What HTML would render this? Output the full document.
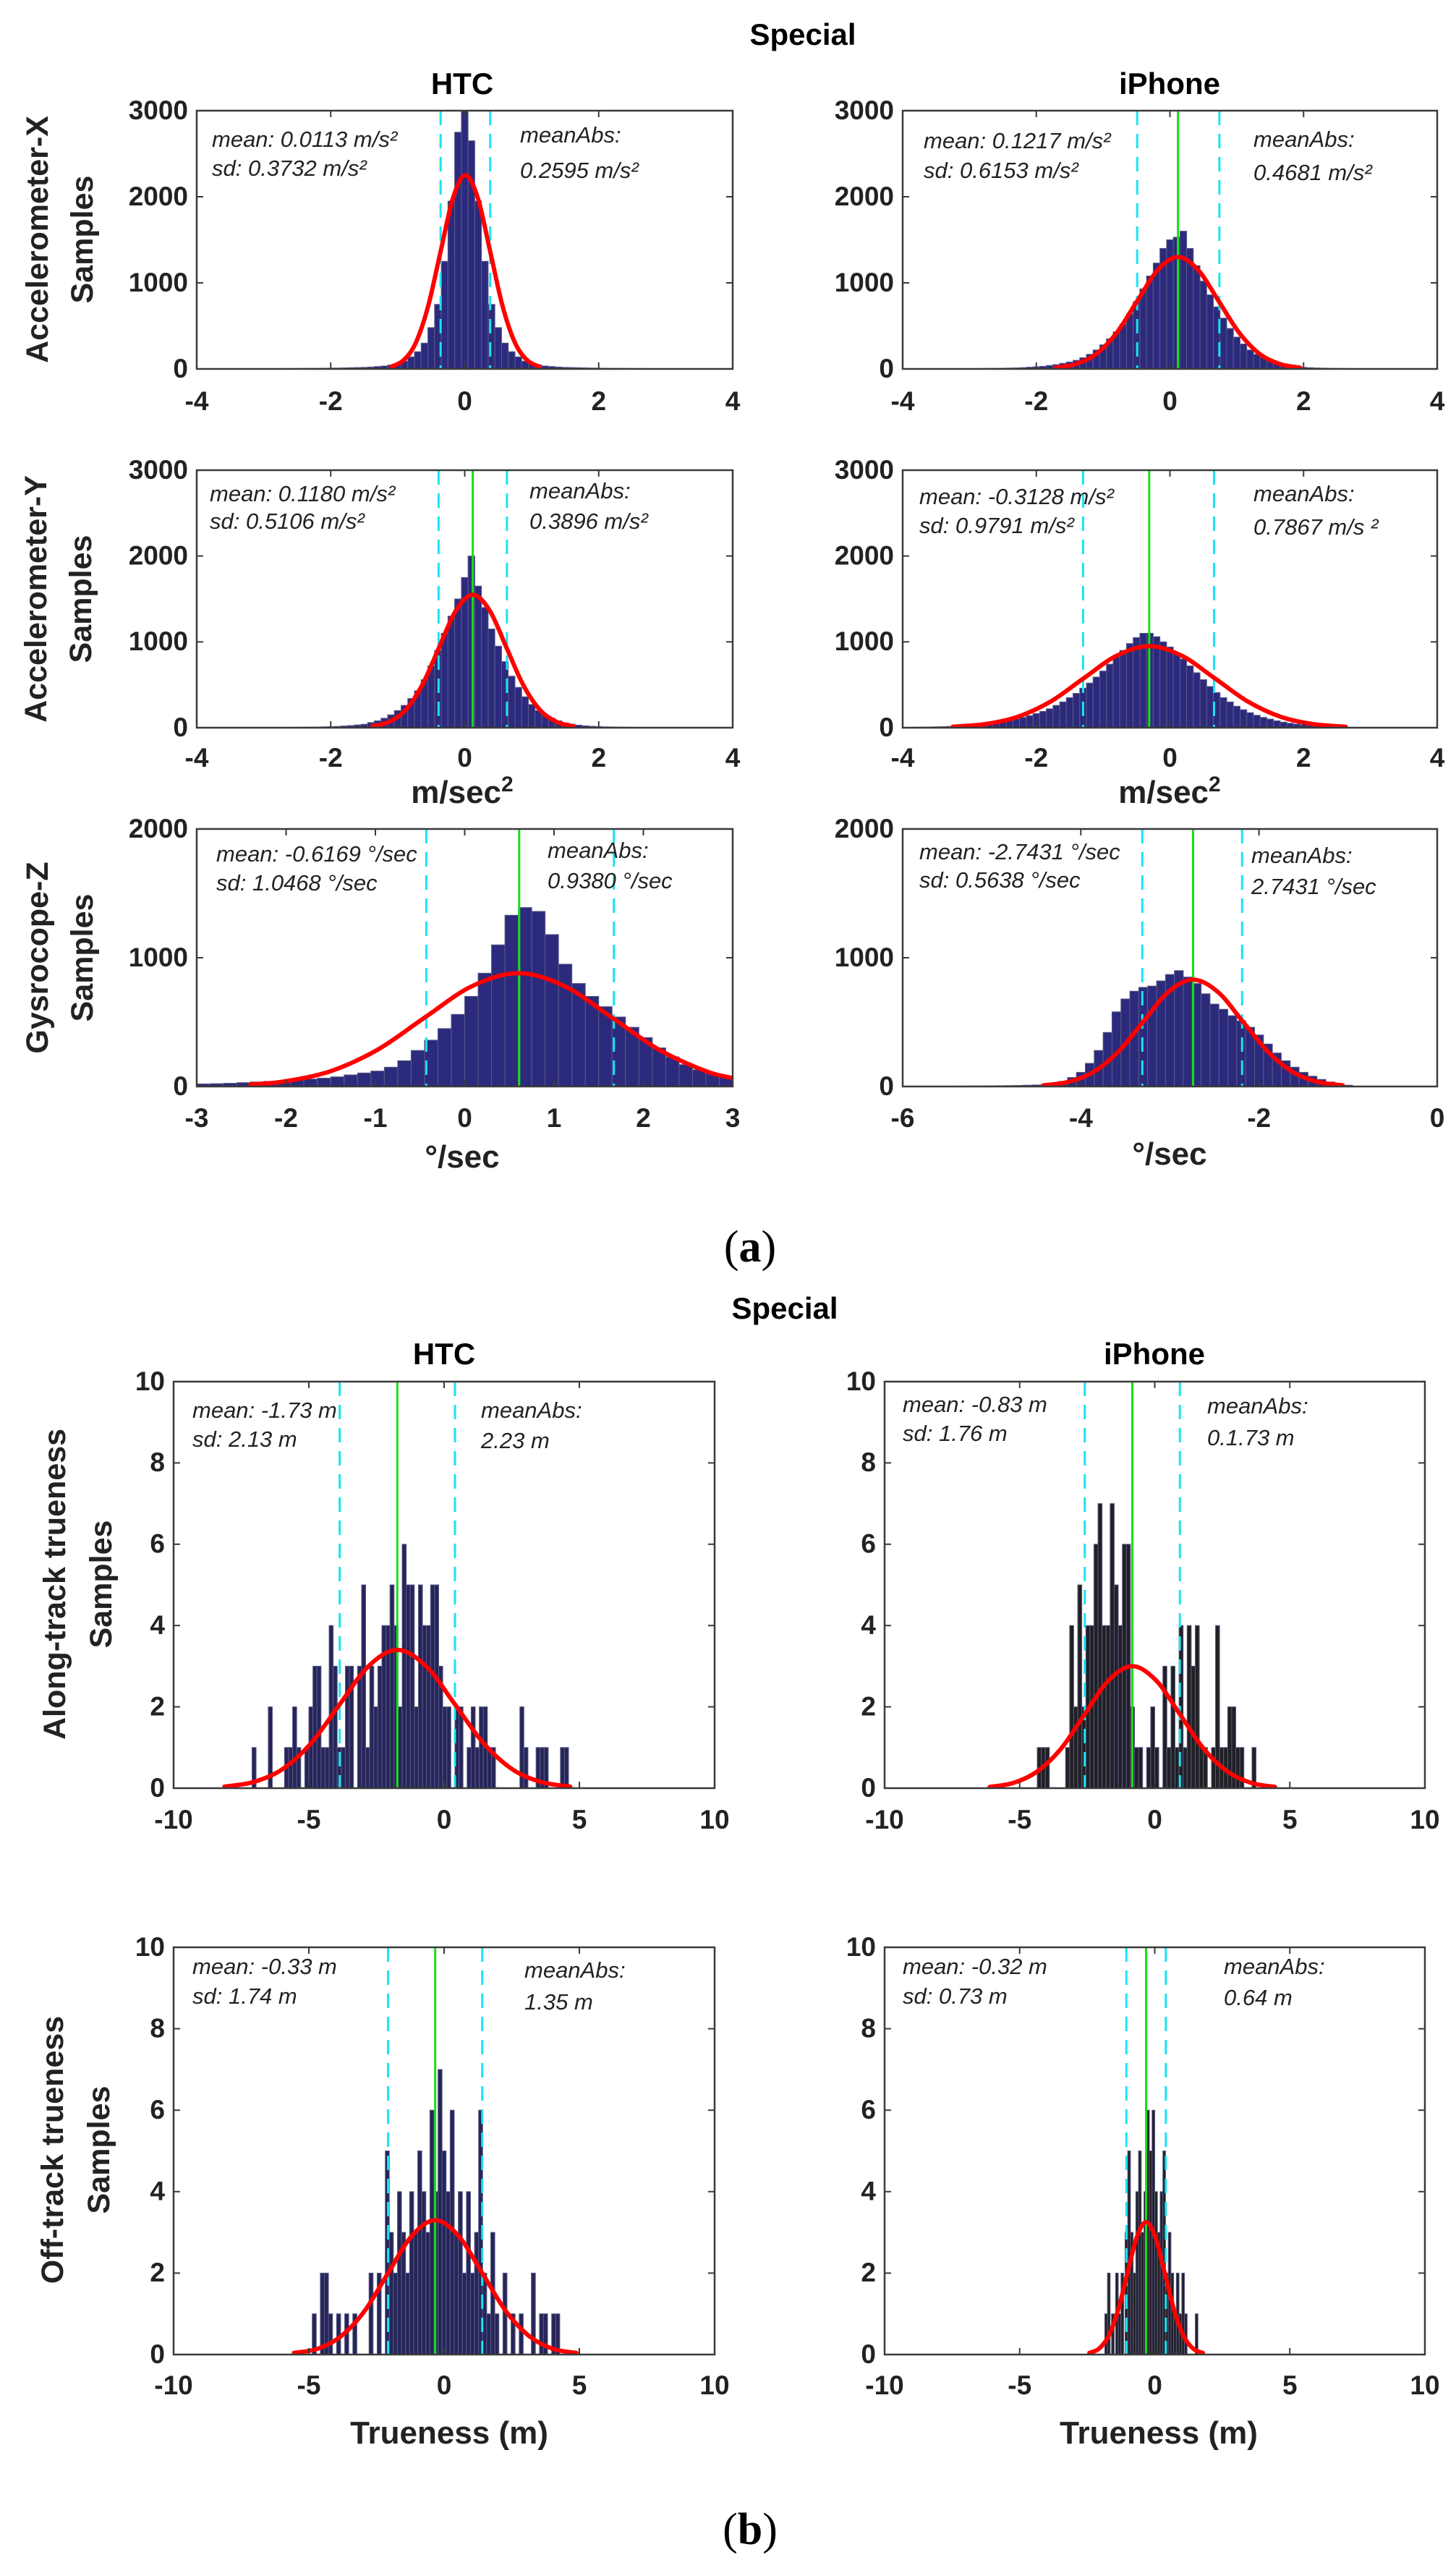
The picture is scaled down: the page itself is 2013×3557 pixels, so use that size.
<!DOCTYPE html>
<html><head><meta charset="utf-8"><title>Special sensor histograms</title>
<style>
html,body{margin:0;padding:0;background:#fff;}
svg{display:block;}
text{font-family:"Liberation Sans",Arial,sans-serif;}
.tick{font-weight:bold;font-size:37px;fill:#222;}
.ann{font-style:italic;font-size:31px;fill:#222;}
.ttl{font-weight:bold;font-size:42px;fill:#000;}
.ylab{font-weight:bold;font-size:43px;fill:#222;}
.xlab{font-weight:bold;font-size:44px;fill:#222;}
.cap{font-family:"Liberation Serif",serif;font-size:62px;fill:#000;}
</style></head>
<body>
<svg id="fig" xmlns="http://www.w3.org/2000/svg" width="2013" height="3557" viewBox="0 0 2013 3557">
<rect x="0" y="0" width="2013" height="3557" fill="#fff"/>
<text x="1110" y="62" text-anchor="middle" class="ttl">Special</text>
<text x="639" y="130" text-anchor="middle" class="ttl">HTC</text>
<text x="1617" y="130" text-anchor="middle" class="ttl">iPhone</text>
<text x="1085" y="1823" text-anchor="middle" class="ttl">Special</text>
<text x="614" y="1886" text-anchor="middle" class="ttl">HTC</text>
<text x="1596" y="1886" text-anchor="middle" class="ttl">iPhone</text>

<g class="ylab">
<text transform="translate(66,331) rotate(-90)" text-anchor="middle">Accelerometer-X</text>
<text transform="translate(128,331) rotate(-90)" text-anchor="middle">Samples</text>
<text transform="translate(64,828) rotate(-90)" text-anchor="middle">Accelerometer-Y</text>
<text transform="translate(126,828) rotate(-90)" text-anchor="middle">Samples</text>
<text transform="translate(66,1324) rotate(-90)" text-anchor="middle">Gysrocope-Z</text>
<text transform="translate(128,1324) rotate(-90)" text-anchor="middle">Samples</text>
<text transform="translate(90,2190) rotate(-90)" text-anchor="middle">Along-track trueness</text>
<text transform="translate(154,2190) rotate(-90)" text-anchor="middle">Samples</text>
<text transform="translate(87,2972) rotate(-90)" text-anchor="middle">Off-track trueness</text>
<text transform="translate(151,2972) rotate(-90)" text-anchor="middle">Samples</text>
</g>

<g class="xlab">
<text x="639" y="1110" text-anchor="middle">m/sec<tspan font-size="30" dy="-16">2</tspan></text>
<text x="1617" y="1110" text-anchor="middle">m/sec<tspan font-size="30" dy="-16">2</tspan></text>
<text x="639" y="1614" text-anchor="middle">°/sec</text>
<text x="1617" y="1610" text-anchor="middle">°/sec</text>
<text x="621" y="3378" text-anchor="middle">Trueness (m)</text>
<text x="1602" y="3378" text-anchor="middle">Trueness (m)</text>
</g>
<text x="1037" y="1744" text-anchor="middle" class="cap">(<tspan font-weight="bold">a</tspan>)</text>
<text x="1037" y="3517" text-anchor="middle" class="cap">(<tspan font-weight="bold">b</tspan>)</text>
<g id="panels"></g>
</svg>
<script>
// ---------- DATA ----------
const p1Counts = [1,1,1,1,2,2,2,2,3,3,3,3,4,4,5,5,6,6,7,8,9,10,12,14,16,18,22,28,
 34,45,60,90,140,200,300,480,750,1250,1950,2750,3200,2650,1950,1250,750,480,300,200,140,90,60,45,34,
 28,22,18,16,14,12,10,9,8,7,6,6,5,5,4,4,3,3,3,3,2,2,2,2,1,1,1,1];
const p1CurveX = [-1.10,-0.915,-0.73,-0.545,-0.36,-0.175,0.01,0.195,0.38,0.565,0.75,0.935,1.12];
const p1CurveY = [25,99,304,731,1365,1986,2250,1986,1365,731,304,99,25];

const p2Counts = [1,1,1,1,2,2,2,3,3,3,4,4,5,6,7,8,10,12,15,20,
 25,30,40,50,65,80,100,130,170,220,280,350,430,520,640,780,930,1080,1230,1400,1500,1530,1600,1400,1200,1020,860,720,590,470,370,290,220,170,130,95,70,50,35,25,18,
 14,11,9,7,6,5,4,4,3,3,2,2,2,2,1,1,1,1,1,1];
const p2CurveX = [-1.71,-1.405,-1.10,-0.795,-0.49,-0.185,0.12,0.425,0.73,1.035,1.34,1.645,1.95];
const p2CurveY = [14,57,176,422,788,1147,1300,1147,788,422,176,57,14];

const p3Counts = [1,1,1,1,1,2,2,2,2,3,3,3,4,4,5,5,6,7,8,10,12,15,20,25,32,
 40,60,80,110,150,200,260,340,430,560,720,900,1100,1300,1500,1750,2000,1650,1400,1150,950,770,600,470,360,270,200,150,110,80,55,40,30,
 22,17,13,10,8,7,6,5,4,4,3,3,3,2,2,2,2,1,1,1,1,1,1];
const p3CurveX = [-1.38,-1.13,-0.88,-0.63,-0.38,-0.13,0.12,0.37,0.62,0.87,1.12,1.37,1.62];
const p3CurveY = [17,68,210,503,940,1368,1550,1368,940,503,210,68,17];

const p4Counts = [4,5,6,7,8,
 10,12,15,18,22,28,34,40,48,58,70,85,100,120,140,165,190,220,260,300,350,400,460,520,590,660,740,820,900,980,
 1050,1100,1100,1060,1000,940,870,800,720,640,560,480,410,350,300,250,210,175,145,120,100,80,65,52,42,34,27,21,16,12,9,7,5,4,3,2,
 2,2,1,1,1,1,1,1,1,1];
const p4CurveX = [-3.25,-2.76,-2.27,-1.78,-1.29,-0.80,-0.31,0.18,0.67,1.16,1.65,2.14,2.63];
const p4CurveY = [11,42,129,308,576,838,950,838,576,308,129,42,11];

const p5Counts = [20,22,25,30,35,40,45,50,58,65,75,90,105,120,150,200,280,360,450,560,700,880,1100,1330,1390,1360,1180,950,800,700,620,540,460,380,300,230,170,130,100,70];
const p5CurveX = [-2.4,-2.025,-1.5,-0.975,-0.45,0.075,0.6,1.125,1.65,2.175,2.7,3.0];
const p5CurveY = [15,39,119,286,534,777,880,777,534,286,119,65];

const p6Counts = [2,3,3,4,4,5,6,7,8,10,12,15,25,40,70,110,180,280,420,580,680,740,770,780,820,870,900,850,800,720,640,600,550,510,460,400,330,260,200,150,110,80,55,35,20,10];
const p6CurveX = [-4.42,-4.14,-3.86,-3.58,-3.30,-3.02,-2.74,-2.46,-2.18,-1.90,-1.62,-1.34,-1.06];
const p6CurveY = [9,36,112,270,503,733,830,733,503,270,112,36,9];

const p7Counts = [1,0,0,0,2,0,0,0,1,1,2,1,0,1,2,3,3,1,1,4,3,1,1,3,3,0,3,5,1,3,2,3,4,4,5,4,2,6,5,5,2,5,4,4,5,5,3,2,2,0,2,2,0,1,2,1,2,2,1,1,0,0,0,0,0,0,2,1,0,0,1,1,1,0,0,0,1,1];
const p7CurveX = [-8.12,-7.055,-5.99,-4.925,-3.86,-2.795,-1.73,-0.665,0.4,1.465,2.53,3.595,4.66];
const p7CurveY = [0.04,0.15,0.46,1.10,2.06,3.0,3.4,3.0,2.06,1.10,0.46,0.15,0.04];

const p8Counts = [1,1,1,0,0,0,0,1,4,2,5,2,4,4,6,7,4,4,7,5,4,6,6,2,1,1,0,1,2,1,0,3,1,3,1,4,1,4,3,4,1,1,0,1,4,1,1,2,2,1,1,0,0,1];
const p8CurveX = [-6.11,-5.23,-4.35,-3.47,-2.59,-1.71,-0.83,0.05,0.93,1.81,2.69,3.57,4.45];
const p8CurveY = [0.03,0.13,0.41,0.97,1.82,2.65,3.0,2.65,1.82,0.97,0.41,0.13,0.03];

const p9Centers = [-4.8,-4.5,-4.35,-4.2,-3.9,-3.6,-3.3,-2.7,-2.4,-2.1,-1.95,-1.8,-1.65,-1.5,-1.35,-1.2,-1.05,-0.9,-0.75,-0.6,-0.45,-0.3,-0.15,0,0.15,0.3,0.45,0.6,0.75,0.9,1.05,1.2,1.35,1.5,1.65,1.8,1.95,2.25,2.55,2.85,3.3,3.6,3.75,4.05,4.2];
const p9Counts = [1,2,2,1,1,1,1,2,2,5,3,2,4,3,2,4,3,5,4,3,6,4,7,5,4,6,3,4,2,4,2,3,6,2,1,3,1,2,1,1,2,1,1,1,1];
const p9CurveX = [-5.55,-4.68,-3.81,-2.94,-2.07,-1.2,-0.33,0.54,1.41,2.28,3.15,4.02,4.89];
const p9CurveY = [0.04,0.14,0.45,1.07,2.0,2.91,3.3,2.91,2.0,1.07,0.45,0.14,0.04];

const p10Centers = [-1.8,-1.7,-1.55,-1.4,-1.3,-1.2,-1.05,-0.95,-0.85,-0.75,-0.65,-0.55,-0.45,-0.35,-0.25,-0.15,-0.05,0.05,0.15,0.25,0.35,0.45,0.55,0.65,0.75,0.85,0.95,1.05,1.15,1.55];
const p10Counts = [1,2,1,2,1,2,3,5,3,2,4,5,3,4,6,5,6,4,3,4,5,2,3,2,1,2,1,2,1,1];
const p10CurveX = [-2.42,-2.07,-1.72,-1.37,-1.02,-0.67,-0.32,0.03,0.38,0.73,1.08,1.43,1.78];
const p10CurveY = [0.04,0.14,0.44,1.06,1.97,2.87,3.25,2.87,1.97,1.06,0.44,0.14,0.04];

const accTicksX = ["-4","-2","0","2","4"];
const accTicksY = ["0","1000","2000","3000"];
const gyroHtcTicksX = ["-3","-2","-1","0","1","2","3"];
const gyroIphTicksX = ["-6","-4","-2","0"];
const gyroTicksY = ["0","1000","2000"];
const trueTicksX = ["-10","-5","0","5","10"];
const trueTicksY = ["0","2","4","6","8","10"];

// mean (green) and mean±sd (cyan) marker positions
const p1Lines = {green:null, cyan:[-0.36,0.38]};
const p2Lines = {green:0.12, cyan:[-0.49,0.74]};
const p3Lines = {green:0.12, cyan:[-0.39,0.63]};
const p4Lines = {green:-0.31, cyan:[-1.30,0.66]};
const p5Lines = {green:0.61, cyan:[-0.43,1.67]};
const p6Lines = {green:-2.74, cyan:[-3.31,-2.19]};
const p7Lines = {green:-1.73, cyan:[-3.86,0.40]};
const p8Lines = {green:-0.83, cyan:[-2.59,0.93]};
const p9Lines = {green:-0.33, cyan:[-2.07,1.41]};
const p10Lines = {green:-0.32, cyan:[-1.05,0.41]};

// ---------- LAYOUT ----------
const NAVY = "#2c2a7c", NAVYB = "#252559", DARK = "#202024";
const panels = [
 {id:"accel-x-htc", box:[272,153,1013,510], xd:[-4,4], yd:[0,3000], xt:accTicksX, yt:accTicksY, counts:p1Counts, start:-4.05, w:0.1, fill:NAVY, lines:p1Lines, cx:p1CurveX, cy:p1CurveY, xlY:557,
  ann:[[293,195,"mean: 0.0113 m/s²"],[293,235,"sd: 0.3732 m/s²"],[719,189,"meanAbs:"],[719,238,"0.2595 m/s²"]]},
 {id:"accel-x-iphone", box:[1248,153,1987,510], xd:[-4,4], yd:[0,3000], xt:accTicksX, yt:accTicksY, counts:p2Counts, start:-4.05, w:0.1, fill:NAVY, lines:p2Lines, cx:p2CurveX, cy:p2CurveY, xlY:557,
  ann:[[1277,197,"mean: 0.1217 m/s²"],[1277,238,"sd: 0.6153 m/s²"],[1733,195,"meanAbs:"],[1733,241,"0.4681 m/s²"]]},
 {id:"accel-y-htc", box:[272,650,1013,1006], xd:[-4,4], yd:[0,3000], xt:accTicksX, yt:accTicksY, counts:p3Counts, start:-4.05, w:0.1, fill:NAVY, lines:p3Lines, cx:p3CurveX, cy:p3CurveY, xlY:1050,
  ann:[[290,685,"mean: 0.1180 m/s²"],[290,723,"sd: 0.5106 m/s²"],[732,681,"meanAbs:"],[732,723,"0.3896 m/s²"]]},
 {id:"accel-y-iphone", box:[1248,650,1987,1006], xd:[-4,4], yd:[0,3000], xt:accTicksX, yt:accTicksY, counts:p4Counts, start:-4.05, w:0.1, fill:NAVY, lines:p4Lines, cx:p4CurveX, cy:p4CurveY, xlY:1050,
  ann:[[1271,689,"mean: -0.3128 m/s²"],[1271,729,"sd: 0.9791 m/s²"],[1733,685,"meanAbs:"],[1733,731,"0.7867 m/s ²"]]},
 {id:"gyro-z-htc", box:[272,1146,1013,1502], xd:[-3,3], yd:[0,2000], xt:gyroHtcTicksX, yt:gyroTicksY, counts:p5Counts, start:-3.0, w:0.15, fill:NAVY, lines:p5Lines, cx:p5CurveX, cy:p5CurveY, xlY:1548,
  ann:[[299,1183,"mean: -0.6169 °/sec"],[299,1223,"sd: 1.0468 °/sec"],[757,1178,"meanAbs:"],[757,1220,"0.9380 °/sec"]]},
 {id:"gyro-z-iphone", box:[1248,1146,1987,1502], xd:[-6,0], yd:[0,2000], xt:gyroIphTicksX, yt:gyroTicksY, counts:p6Counts, start:-5.55, w:0.1, fill:NAVY, lines:p6Lines, cx:p6CurveX, cy:p6CurveY, xlY:1548,
  ann:[[1271,1180,"mean: -2.7431 °/sec"],[1271,1219,"sd: 0.5638 °/sec"],[1730,1185,"meanAbs:"],[1730,1228,"2.7431 °/sec"]]},
 {id:"along-track-htc", box:[240,1910,988,2472], xd:[-10,10], yd:[0,10], xt:trueTicksX, yt:trueTicksY, counts:p7Counts, start:-7.1, w:0.15, fill:NAVYB, lines:p7Lines, cx:p7CurveX, cy:p7CurveY, xlY:2518,
  ann:[[266,1952,"mean: -1.73 m"],[266,1992,"sd: 2.13 m"],[665,1952,"meanAbs:"],[665,1994,"2.23 m"]]},
 {id:"along-track-iphone", box:[1223,1910,1970,2472], xd:[-10,10], yd:[0,10], xt:trueTicksX, yt:trueTicksY, counts:p8Counts, start:-4.35, w:0.15, fill:DARK, lines:p8Lines, cx:p8CurveX, cy:p8CurveY, xlY:2518,
  ann:[[1248,1944,"mean: -0.83 m"],[1248,1984,"sd: 1.76 m"],[1669,1946,"meanAbs:"],[1669,1990,"0.1.73 m"]]},
 {id:"off-track-htc", box:[240,2692,988,3255], xd:[-10,10], yd:[0,10], xt:trueTicksX, yt:trueTicksY, counts:p9Counts, centers:p9Centers, w:0.15, fill:NAVYB, lines:p9Lines, cx:p9CurveX, cy:p9CurveY, xlY:3300,
  ann:[[266,2721,"mean: -0.33 m"],[266,2762,"sd: 1.74 m"],[725,2726,"meanAbs:"],[725,2770,"1.35 m"]]},
 {id:"off-track-iphone", box:[1223,2692,1970,3255], xd:[-10,10], yd:[0,10], xt:trueTicksX, yt:trueTicksY, counts:p10Counts, centers:p10Centers, w:0.1, fill:DARK, lines:p10Lines, cx:p10CurveX, cy:p10CurveY, xlY:3300,
  ann:[[1248,2721,"mean: -0.32 m"],[1248,2762,"sd: 0.73 m"],[1692,2721,"meanAbs:"],[1692,2764,"0.64 m"]]}
];

const NS = "http://www.w3.org/2000/svg";
function mk(tag, attrs, parent){
  const e = document.createElementNS(NS, tag);
  for (const k in attrs) e.setAttribute(k, attrs[k]);
  if (parent) parent.appendChild(e);
  return e;
}
function smoothPath(pts){
  let d = "M" + pts[0][0].toFixed(1) + "," + pts[0][1].toFixed(1);
  for (let i = 0; i < pts.length - 1; i++){
    const p0 = pts[Math.max(0,i-1)], p1 = pts[i], p2 = pts[i+1], p3 = pts[Math.min(pts.length-1,i+2)];
    const c1x = p1[0] + (p2[0]-p0[0])/6, c1y = p1[1] + (p2[1]-p0[1])/6;
    const c2x = p2[0] - (p3[0]-p1[0])/6, c2y = p2[1] - (p3[1]-p1[1])/6;
    d += " C" + c1x.toFixed(1)+","+c1y.toFixed(1)+" "+c2x.toFixed(1)+","+c2y.toFixed(1)+" "+p2[0].toFixed(1)+","+p2[1].toFixed(1);
  }
  return d;
}

const root = document.getElementById("panels");
panels.forEach(function(p){
  const [L,T,R,B] = p.box;
  const sx = v => L + (v - p.xd[0]) / (p.xd[1] - p.xd[0]) * (R - L);
  const sy = v => B - (v - p.yd[0]) / (p.yd[1] - p.yd[0]) * (B - T);
  const g = mk("g", {}, root);
  
  
  const clipId = "clip-" + p.id;
  const cp = mk("clipPath", {id:clipId}, g);
  mk("rect", {x:L, y:T, width:R-L, height:B-T}, cp);

  // bars
  const bars = mk("g", {"clip-path":"url(#"+clipId+")"}, g);
  
  
  p.counts.forEach(function(c, i){
    if (c <= 0) return;
    const x0 = p.centers ? p.centers[i] - p.w/2 : p.start + i * p.w;
    const xa = sx(x0), xb = sx(x0 + p.w);
    const r = mk("rect", {x:xa.toFixed(2), y:sy(c).toFixed(2), width:(xb-xa).toFixed(2), height:(B - sy(c)).toFixed(2), fill:p.fill, stroke:"#5b5b86", "stroke-width":"1"}, bars);
    
    
  });

  // sd lines
  p.lines.cyan.forEach(function(v){
    const l = mk("line", {x1:sx(v), x2:sx(v), y1:T, y2:B, stroke:"#18e4f4", "stroke-width":"3", "stroke-dasharray":"20,12"}, g);
    
    
  });
  if (p.lines.green !== null){
    const gl = mk("line", {x1:sx(p.lines.green), x2:sx(p.lines.green), y1:T, y2:B, stroke:"#16e016", "stroke-width":"3"}, g);
    
    
  }

  // fit curve
  const pts = p.cx.map((x, i) => [sx(x), sy(p.cy[i])]);
  const cur = mk("path", {d:smoothPath(pts), fill:"none", stroke:"#ff0000", "stroke-width":"6", "stroke-linecap":"round", "clip-path":"url(#"+clipId+")"}, g);
  
  

  // axes box
  const box = mk("rect", {x:L, y:T, width:R-L, height:B-T, fill:"none", stroke:"#3a3a3a", "stroke-width":"2.5"}, g);
  
  

  // x ticks
  p.xt.forEach(function(lab){
    const v = parseFloat(lab), x = sx(v);
    mk("line", {x1:x, x2:x, y1:B, y2:B-9, stroke:"#3a3a3a", "stroke-width":"2"}, g);
    mk("line", {x1:x, x2:x, y1:T, y2:T+9, stroke:"#3a3a3a", "stroke-width":"2"}, g);
    const t = mk("text", {x:x, y:p.xlY, "text-anchor":"middle", "dominant-baseline":"middle", "class":"tick"}, g);
    t.textContent = lab;
    
    
  });
  // y ticks
  p.yt.forEach(function(lab){
    const v = parseFloat(lab), y = sy(v);
    mk("line", {x1:L, x2:L+9, y1:y, y2:y, stroke:"#3a3a3a", "stroke-width":"2"}, g);
    mk("line", {x1:R, x2:R-9, y1:y, y2:y, stroke:"#3a3a3a", "stroke-width":"2"}, g);
    const t = mk("text", {x:L-12, y:y+2, "text-anchor":"end", "dominant-baseline":"middle", "class":"tick"}, g);
    t.textContent = lab;
    
    
  });
  // annotations
  p.ann.forEach(function(a){
    const t = mk("text", {x:a[0], y:a[1], "dominant-baseline":"middle", "class":"ann"}, g);
    t.textContent = a[2];
    
    
  });
});
</script>
</body></html>
